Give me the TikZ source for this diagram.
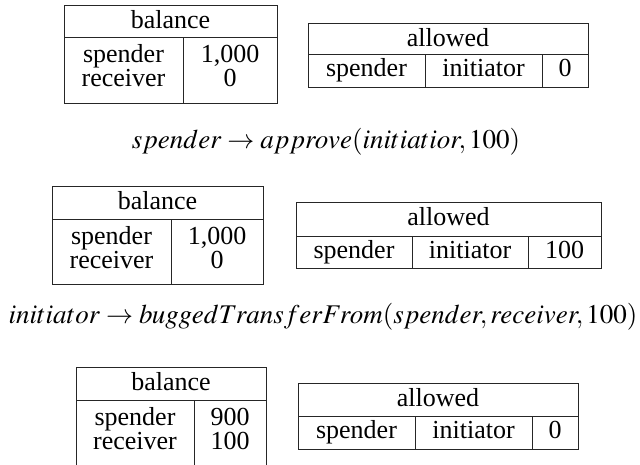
\documentclass[tikz,border=0pt]{standalone}
\usepackage{mathptmx}
\usepackage[no-math]{fontspec}
\setmainfont{Liberation Serif}
\tikzset{
  tabline/.style={draw=black!85, line width=1pt},
  cell/.style={anchor=base, inner sep=0pt, font=\fontsize{26}{30}\selectfont},
  caption/.style={anchor=base, inner sep=0pt, font=\fontsize{27}{32}\selectfont}
}
% #1 name, #2 left, #3 top, #4 header bottom, #5 divider, #6 right, #7 bottom, #8 v1, #9 v2
\newcommand{\baltab}[9]{%
  \draw[tabline] (#2,#3) rectangle (#6,#7);
  \draw[tabline] (#2,#4) -- (#6,#4);
  \draw[tabline] (#5,#4) -- (#5,#7);
  \node[cell] (#1h) at ({(#2+#6)/2},{#3+23.5}) {balance};
  \node[cell] (#1s) at ({(#2+#5)/2},{#4+25.5}) {spender};
  \node[cell] (#1r) at ({(#2+#5)/2},{#4+49.5}) {receiver};
  \node[cell] (#1sv) at ({(#5+#6)/2},{#4+25.5}) {#8};
  \node[cell] (#1rv) at ({(#5+#6)/2},{#4+49.5}) {#9};
}
% #1 name, #2 left, #3 top, #4 header bottom, #5 d1, #6 d2, #7 right, #8 bottom, #9 value
\newcommand{\alltab}[9]{%
  \draw[tabline] (#2,#3) rectangle (#7,#8);
  \draw[tabline] (#2,#4) -- (#7,#4);
  \draw[tabline] (#5,#4) -- (#5,#8);
  \draw[tabline] (#6,#4) -- (#6,#8);
  \node[cell] (#1h) at ({(#2+#7)/2},{#3+23}) {allowed};
  \node[cell] (#1a) at ({(#2+#5)/2},{#4+22}) {spender};
  \node[cell] (#1b) at ({(#5+#6)/2},{#4+22}) {initiator};
  \node[cell] (#1c) at ({(#6+#7)/2},{#4+22}) {#9};
}
\begin{document}
\begin{tikzpicture}[x=1pt,y=-1pt]
  \useasboundingbox (0,0) rectangle (640,464);
  \baltab{ba}{64}{5}{37}{183}{277}{103}{1,000}{0}
  \alltab{aa}{308}{23}{54}{425}{542}{588}{87}{0}
  \node[caption] (cap1) at (326,148) {$spender \rightarrow approve(initiatior, 100)$};
  \baltab{bb}{52}{186}{219}{171}{263}{284}{1,000}{0}
  \alltab{ab}{296}{202}{236}{412}{528}{601}{268}{100}
  \node[caption] (cap2) at (323,323) {$initiator \rightarrow buggedTransferFrom(spender, receiver, 100)$};
  \baltab{bc}{76}{367}{400}{194}{266}{465}{900}{100}
  \alltab{ac}{298}{383}{416}{415}{532}{578}{449}{0}
\end{tikzpicture}
\end{document}
